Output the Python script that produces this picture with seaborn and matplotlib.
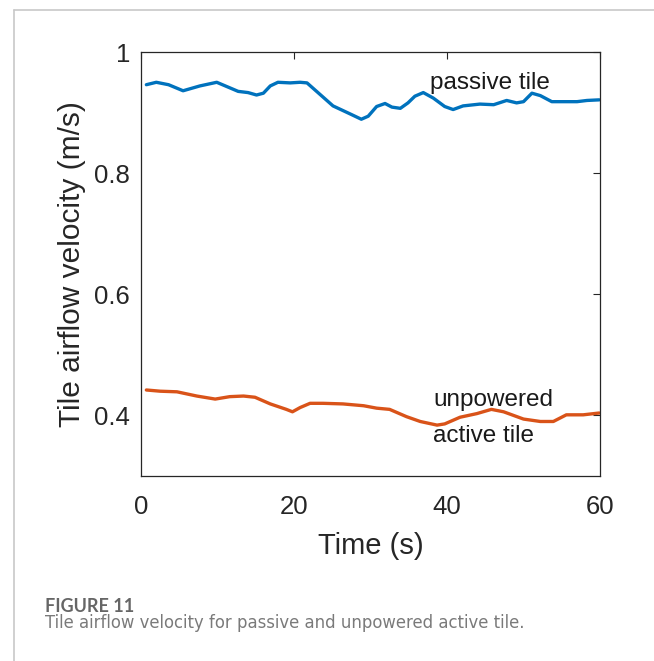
import numpy as np
import pandas as pd
import matplotlib
matplotlib.use("Agg")
import matplotlib.pyplot as plt
import seaborn as sns
from matplotlib.lines import Line2D

# ---- data ----
passive_t = [0.7, 2.0, 3.6, 5.5, 7.7, 9.9, 12.7, 14.0, 15.1, 16.0, 16.9, 17.9, 19.5, 20.8,
             21.7, 23.4, 25.1, 27.3, 28.8, 29.7, 30.8, 31.9, 32.8, 33.9, 34.9, 35.8, 36.9,
             38.2, 39.7, 40.8, 42.1, 44.3, 46.1, 47.8, 49.1, 50.0, 51.1, 52.2, 53.7, 55.2,
             57.0, 58.3, 59.9]
passive_v = [0.946, 0.950, 0.946, 0.936, 0.944, 0.950, 0.935, 0.933, 0.929, 0.932, 0.944,
             0.950, 0.949, 0.950, 0.949, 0.930, 0.911, 0.898, 0.889, 0.894, 0.910, 0.915,
             0.909, 0.907, 0.916, 0.927, 0.933, 0.924, 0.910, 0.905, 0.911, 0.914, 0.913,
             0.920, 0.916, 0.918, 0.932, 0.928, 0.918, 0.918, 0.918, 0.920, 0.921]

active_t = [0.7, 2.5, 4.7, 7.3, 9.7, 11.6, 13.4, 14.9, 16.9, 19.0, 19.8, 20.8, 22.1, 23.8,
            26.4, 29.1, 30.8, 32.5, 34.7, 36.5, 38.7, 39.7, 41.7, 43.9, 45.8, 47.4, 50.0,
            52.2, 53.9, 55.6, 57.8, 59.9]
active_v = [0.442, 0.440, 0.439, 0.432, 0.427, 0.431, 0.432, 0.430, 0.419, 0.410, 0.406,
            0.413, 0.420, 0.420, 0.419, 0.416, 0.412, 0.410, 0.398, 0.390, 0.384, 0.386,
            0.397, 0.403, 0.410, 0.406, 0.394, 0.390, 0.390, 0.401, 0.401, 0.404]

x_ticks = [0, 20, 40, 60]
y_ticks = [0.4, 0.6, 0.8, 1.0]
y_tick_labels = ["0.4", "0.6", "0.8", "1"]

df = pd.concat([
    pd.DataFrame({"t": passive_t, "v": passive_v, "tile": "passive"}),
    pd.DataFrame({"t": active_t, "v": active_v, "tile": "active"}),
], ignore_index=True)

sns.set_style("white")
plt.rcParams["font.family"] = ["Liberation Sans", "DejaVu Sans"]

fig = plt.figure(figsize=(6.54, 6.61), dpi=100)
ax = fig.add_axes([141/654, 1 - 476/661, (600-141)/654, (476-52)/661])

sns.lineplot(data=df, x="t", y="v", hue="tile", palette={"passive": "#0072BD", "active": "#D95319"},
             linewidth=2.4, legend=False, ax=ax, estimator=None, sort=False)

ax.set_xlim(0, 60)
ax.set_ylim(0.3, 1.0)
ax.set_xticks(x_ticks)
ax.set_xticklabels([str(v) for v in x_ticks])
ax.set_yticks(y_ticks)
ax.set_yticklabels(y_tick_labels)
ax.tick_params(direction="in", length=5, width=0.8, labelsize=18.5, colors="#262626",
               top=True, right=True, pad=8)
ax.tick_params(axis="x", pad=14)
for s in ax.spines.values():
    s.set_color("#262626")
    s.set_linewidth(0.9)
ax.set_xlabel("Time (s)", fontsize=21, color="#262626", labelpad=9)
ax.set_ylabel("Tile airflow velocity (m/s)", fontsize=21.5, color="#262626", labelpad=6)

ax.text(37.8, 0.949, "passive tile", fontsize=17.5, color="#1a1a1a", va="center", ha="left")
ax.text(38.2, 0.425, "unpowered", fontsize=17.5, color="#1a1a1a", va="center", ha="left")
ax.text(38.2, 0.366, "active tile", fontsize=17.5, color="#1a1a1a", va="center", ha="left")

# page frame lines
fig.add_artist(Line2D([14/654, 1.0], [1 - 9.5/661, 1 - 9.5/661], transform=fig.transFigure,
                      color="#c8c8c8", linewidth=1.2))
fig.add_artist(Line2D([14/654, 14/654], [0.0, 1 - 9.5/661], transform=fig.transFigure,
                      color="#c8c8c8", linewidth=1.2))

fig.text(45/654, 1 - 612/661, "FIGURE 11", fontsize=13, color="#666666", fontweight="bold",
         family=["Lato", "DejaVu Sans"], va="baseline", ha="left")
fig.text(45/654, 1 - 628/661, "Tile airflow velocity for passive and unpowered active tile.",
         fontsize=11.9, color="#7a7a7a", family=["DejaVu Sans"], va="baseline", ha="left")

fig.savefig("out.png", dpi=100)
